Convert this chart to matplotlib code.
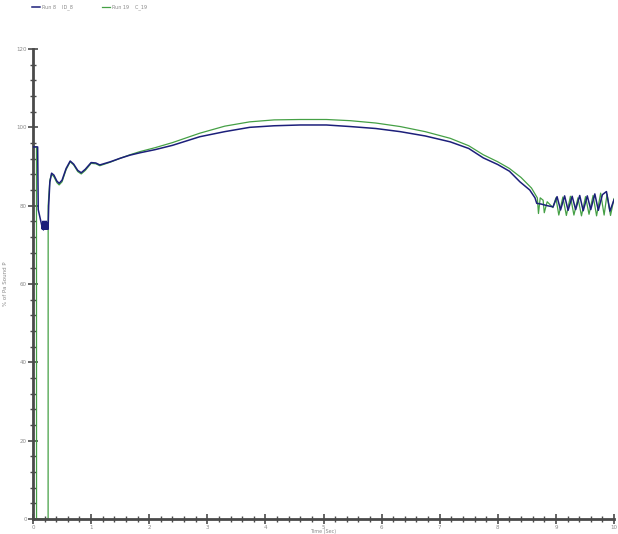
import matplotlib
matplotlib.use("Agg")
import matplotlib.pyplot as plt
from matplotlib.ticker import MultipleLocator

# Run 8 (ID_8)
run8_t = [0.00, 0.08, 0.09, 0.12, 0.15, 0.16, 0.17, 0.18, 0.19, 0.20, 0.21, 0.22,
          0.23, 0.24, 0.25, 0.26, 0.27, 0.29, 0.32, 0.36, 0.41, 0.45, 0.50, 0.57,
          0.64, 0.70, 0.77, 0.83, 0.90, 1.00, 1.08, 1.15, 1.33, 1.50, 1.67, 1.84,
          2.10, 2.40, 2.87, 3.30, 3.73, 4.15, 4.60, 5.05, 5.46, 5.90, 6.32, 6.75,
          7.18, 7.50, 7.75, 8.00, 8.20, 8.38, 8.55, 8.64, 8.67, 8.75, 8.85, 8.95,
          9.02, 9.08, 9.15, 9.21, 9.28, 9.34, 9.41, 9.47, 9.54, 9.60, 9.67, 9.73,
          9.80, 9.87, 9.93, 10.00]
run8_v = [95.0, 95.0, 79.0, 77.0, 75.0, 74.0, 76.0, 73.8, 76.0, 74.0, 76.0, 74.0,
          76.0, 74.0, 75.5, 74.0, 80.0, 86.0, 88.3, 87.8, 86.3, 85.7, 86.5, 89.5,
          91.4, 90.6, 89.0, 88.4, 89.3, 91.0, 90.9, 90.4, 91.2, 92.1, 92.9, 93.5,
          94.3, 95.4, 97.6, 98.9, 100.0, 100.4, 100.6, 100.6, 100.2, 99.7, 98.9, 97.8,
          96.3, 94.6, 92.2, 90.5, 88.8, 86.1, 84.0, 82.0, 80.6, 80.4, 80.0, 79.7,
          82.3, 78.9, 82.5, 78.8, 82.4, 79.0, 82.6, 78.7, 82.5, 79.0, 83.0, 78.8,
          82.8, 83.6, 78.6, 81.5]

# Run 19 (C_19)
run19_t = [0.00, 0.06, 0.061, 0.26, 0.261, 0.29, 0.32, 0.36, 0.41, 0.45, 0.50, 0.57,
           0.64, 0.70, 0.77, 0.83, 0.90, 1.00, 1.08, 1.15, 1.33, 1.50, 1.67, 1.84,
           2.10, 2.40, 2.87, 3.30, 3.73, 4.15, 4.60, 5.05, 5.46, 5.90, 6.32, 6.75,
           7.18, 7.50, 7.75, 8.00, 8.20, 8.40, 8.58, 8.68, 8.70, 8.73, 8.78, 8.80,
           8.85, 8.95, 9.00, 9.05, 9.12, 9.18, 9.25, 9.31, 9.38, 9.44, 9.51, 9.57,
           9.64, 9.70, 9.77, 9.83, 9.88, 9.94, 10.00]
run19_v = [95.0, 95.0, 0.0, 0.0, 80.0, 86.5, 88.0, 87.4, 85.9, 85.3, 86.1, 89.2,
           91.2, 90.4, 88.7, 88.1, 89.0, 90.8, 90.7, 90.2, 91.1, 92.1, 93.0, 93.8,
           94.8, 96.1, 98.5, 100.3, 101.4, 101.9, 102.0, 102.0, 101.7, 101.1, 100.2, 98.9,
           97.2, 95.3, 93.0, 91.2, 89.5, 87.2, 84.5, 82.0, 78.0, 82.0, 81.4, 78.2,
           81.0, 79.5, 82.0, 77.6, 82.2, 77.5, 82.4, 77.6, 82.0, 77.4, 82.3, 77.8,
           82.6, 77.4, 83.2, 77.6, 82.9, 77.5, 81.8]

x_ticks = [0, 1, 2, 3, 4, 5, 6, 7, 8, 9, 10]
y_ticks = [0, 20, 40, 60, 80, 100, 120]

navy = "#1c1f7a"
green = "#45a045"
axis_col = "#4a4a4a"
text_col = "#8a8a8a"

fig = plt.figure(figsize=(6.18, 5.34), dpi=100)
ax = fig.add_axes([33 / 618, 15 / 534, 581 / 618, 470 / 534])

ax.plot(run19_t, run19_v, color=green, lw=0.9, label="Run 19    C_19", zorder=2)
ax.plot(run8_t, run8_v, color=navy, lw=1.1, label="Run 8    ID_8", zorder=3)

ax.set_xlim(0, 10)
ax.set_ylim(0, 120)
ax.set_xticks(x_ticks)
ax.set_yticks(y_ticks)
ax.xaxis.set_minor_locator(MultipleLocator(0.2))
ax.yaxis.set_minor_locator(MultipleLocator(4))

for side in ("top", "right"):
    ax.spines[side].set_visible(False)
for side in ("left", "bottom"):
    ax.spines[side].set_color(axis_col)
    ax.spines[side].set_linewidth(2.0)

ax.tick_params(which="major", direction="inout", length=7, width=1.2,
               color=axis_col, labelsize=4, labelcolor=text_col, pad=1)
ax.tick_params(which="minor", direction="inout", length=4, width=1.0,
               color=axis_col)

ax.set_xlabel("Time (Sec)", fontsize=3.5, color=text_col)
ax.xaxis.set_label_coords(0.5, -0.022)
ax.set_ylabel("% of Pa Sound P", fontsize=4, color=text_col, labelpad=6)

leg_handles = [ax.lines[1], ax.lines[0]]
fig.legend(leg_handles, [h.get_label() for h in leg_handles],
           loc="upper left", bbox_to_anchor=(28 / 618, 1.0), ncol=2,
           frameon=False, fontsize=3.5, labelcolor=text_col,
           handlelength=1.6, handletextpad=0.4, columnspacing=6)

fig.savefig("out.png", dpi=100, facecolor="white")
